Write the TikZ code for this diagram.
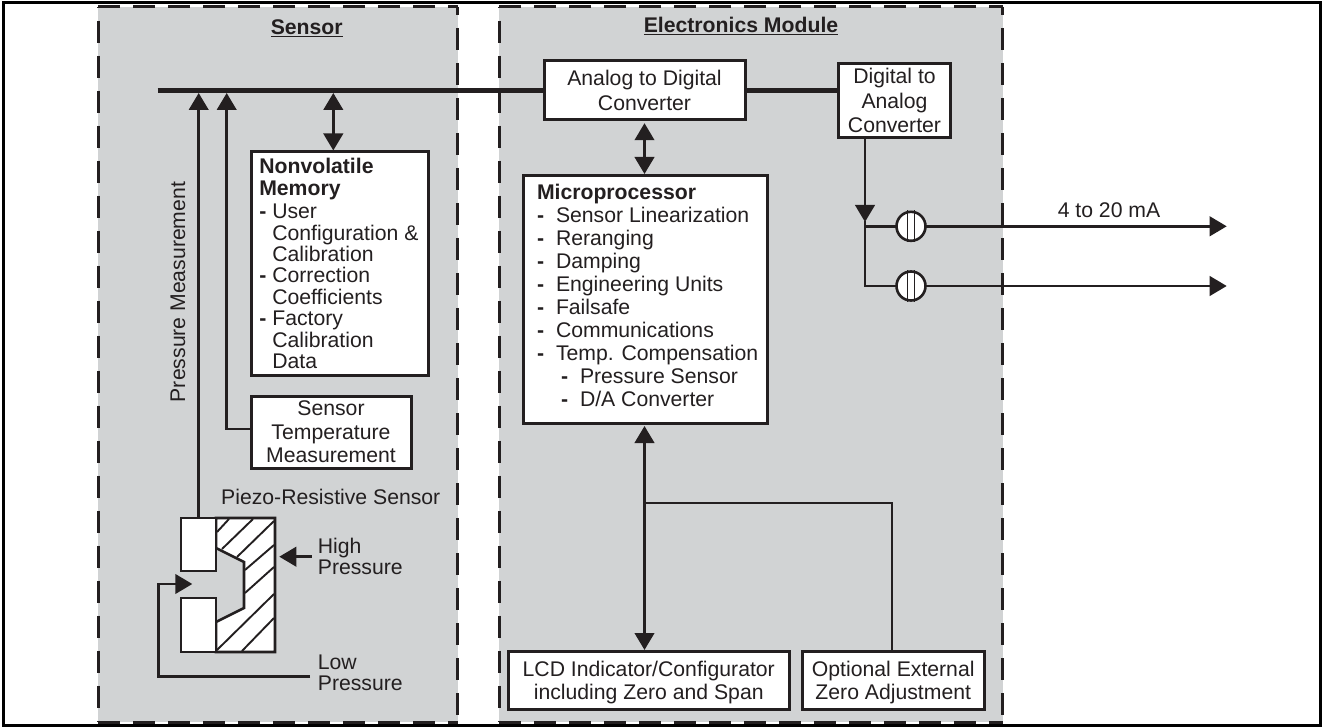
\documentclass[tikz,border=0pt]{standalone}
\usepackage{fontspec}
\setmainfont{Liberation Sans}
\usetikzlibrary{arrows.meta,calc}
\definecolor{panel}{HTML}{D1D3D4}
\definecolor{ink}{HTML}{231F20}
\newcommand{\memd}{\makebox[13pt][l]{\textbf{-}}}
\newcommand{\cpud}{\makebox[19pt][l]{\textbf{-}}}
\newcommand{\cpui}{\hspace*{24pt}\cpud}
\tikzset{
  x=1pt,y=-1pt,
  every node/.style={font=\fontsize{21.2}{21.4}\selectfont,text=ink},
  panelline/.style={draw=ink,line width=3pt,dash pattern=on 22pt off 13pt},
  whitebox/.style={draw=ink,fill=white,line width=3pt,align=center,inner sep=0pt,anchor=north west},
  wire/.style={draw=ink,line width=2.6pt},
  tip/.style={-{Triangle[length=17pt,width=19.5pt]}},
  dtip/.style={{Triangle[length=17pt,width=19.5pt]}-{Triangle[length=17pt,width=19.5pt]}},
  bus/.style={draw=ink,line width=5.5pt},
  port/.style={circle,draw=ink,fill=white,line width=2.6pt,minimum size=29pt,inner sep=0pt},
  hatch/.style={draw=ink,line width=1.9pt},
  lbl/.style={inner sep=0pt,align=left,anchor=north west},
  title/.style={font=\fontsize{21.2}{21.4}\selectfont\bfseries,inner sep=0pt,anchor=base}
}
\begin{document}
\begin{tikzpicture}
\useasboundingbox (0,0) rectangle (1323,727);
\fill[white] (0,0) rectangle (1323,727);
% panels
\fill[panel] (98,7) rectangle (457.5,722);
\fill[panel] (499,7) rectangle (1002.5,722);
\foreach \l/\r in {98/457.5,499/1002.5}{
  \draw[panelline] (\l,7) -- (\r,7);
  \draw[panelline] (\l,722) -- (\r,722);
  \draw[panelline,dash phase=21.4pt] (\l,7) -- (\l,722);
  \draw[panelline,dash phase=14pt] (\r,7) -- (\r,722);
}
\draw[black,line width=3pt] (3,3) rectangle (1320,725);
% titles
\node[title] (sensortitle) at (306.7,35) {\underline{Sensor}};
\node[title] (emtitle) at (741,33) {\underline{Electronics Module}};
% boxes
\node[whitebox,font=\fontsize{21.2}{25}\selectfont,minimum width=201pt,minimum height=58.7pt] (adc) at (542.5,59.5) {Analog to Digital\\Converter};
\node[whitebox,font=\fontsize{21.2}{24.8}\selectfont,minimum width=112pt,minimum height=74pt] (dac) at (837,62) {Digital to\\Analog\\Converter};
\node[whitebox] (mem) at (250,150.5) {\parbox[c][223pt][t]{176.5pt}{\fontsize{21.2}{21.4}\selectfont\raggedright\leftskip=7.8pt\rule{0pt}{21.7pt}\textbf{Nonvolatile}\\\textbf{Memory}\\[2.3pt]\memd User\\\hspace*{13pt}Configuration \&\\\hspace*{13pt}Calibration\\\memd Correction\\\hspace*{13pt}Coefficients\\\memd Factory\\\hspace*{13pt}Calibration\\\hspace*{13pt}Data}};
\node[whitebox,font=\fontsize{21.2}{23.5}\selectfont,minimum width=160pt,minimum height=72pt] (temp) at (249.5,394.5) {Sensor\\Temperature\\Measurement};
\node[whitebox] (mcu) at (521.5,174) {\parbox[c][247.5pt][t]{244pt}{\fontsize{21.2}{23.1}\selectfont\raggedright\leftskip=14pt\rule{0pt}{23.5pt}\textbf{Microprocessor}\\\cpud Sensor Linearization\\\cpud Reranging\\\cpud Damping\\\cpud Engineering Units\\\cpud Failsafe\\\cpud Communications\\\cpud Temp. Compensation\\\cpui Pressure Sensor\\\cpui D/A Converter}};
\node[whitebox,font=\fontsize{21.2}{23.6}\selectfont,minimum width=280.5pt,minimum height=58pt] (lcd) at (507,650) {\rule{0pt}{19pt}LCD Indicator/Configurator\\including Zero and Span};
\node[whitebox,font=\fontsize{21.2}{23.6}\selectfont,minimum width=181.5pt,minimum height=58pt] (opt) at (801,650) {\rule{0pt}{19pt}Optional External\\Zero Adjustment};
% bus
\coordinate (busl) at (157.7,90.7);
\coordinate (b1) at (198.7,93);
\coordinate (b2) at (226.7,93);
\coordinate (b3) at (333.3,93);
\draw[bus] (busl) -- (adc.west |- busl);
\draw[bus] (adc.east |- busl) -- (dac.west |- busl);
% sensor body
\coordinate (sTL) at (181,518);
\coordinate (sTM) at (216,518);
\coordinate (sTR) at (275,518);
\coordinate (sBR) at (275,652);
\coordinate (sBM) at (216,652);
\coordinate (c1) at (216,548);
\coordinate (c2) at (244,562);
\coordinate (c3) at (244,608);
\coordinate (c4) at (216,622);
\draw[line width=2.6pt,draw=ink,fill=white] (sTM) -- (sTR) -- (sBR) -- (sBM) -- (c4) -- (c3) -- (c2) -- (c1) -- cycle;
\draw[hatch] (217,532) -- (229,519);
\draw[hatch] (222,549) -- (253,519);
\draw[hatch] (237,557) -- (274,521);
\draw[hatch] (245,570) -- (274,545);
\draw[hatch] (245,593) -- (274,567);
\draw[hatch] (217,650) -- (274,594);
\draw[hatch] (242,651) -- (274,618);
\draw[line width=2.6pt,draw=ink,fill=white] (181,518) rectangle (216,571);
\draw[line width=2.6pt,draw=ink,fill=white] (181,598) rectangle (216,652);
% connectors
\path[wire,tip] (sTL -| b1) -- (b1);
\coordinate (t1) at (250,429);
\path[wire,tip] (t1) -| (b2);
\path[wire,dtip] (b3) -- (b3 |- mem.north);
\coordinate (a1) at (644.5,60);
\path[wire,dtip,shorten <=2pt] (adc.south -| a1) -- (mcu.north -| a1);
\path[wire,dtip,shorten <=1.5pt] (mcu.south -| a1) -- (lcd.north -| a1);
\coordinate (j1) at (644.5,503);
\coordinate (j2) at (892,503);
\draw[wire] (j1) -- (j2) -- (j2 |- opt.north);
% outputs
\coordinate (d1) at (865,139);
\coordinate (d2) at (865,222);
\coordinate (o1) at (865,226.3);
\coordinate (o2) at (865,286);
\coordinate (e1) at (1226.7,226.3);
\coordinate (e2) at (1226.7,286);
\path[wire,tip] (d1) -- (d2);
\draw[wire,line cap=rect] (d2) -- (o2);
\path[wire,tip] (o1) -- (e1);
\path[wire,tip] (o2) -- (e2);
\node[port] (p1) at (911,226.3) {};
\node[port] (p2) at (911,286) {};
\foreach \p in {p1,p2}{
  \draw[ink,line width=1.4pt] ($(\p.north)+(-3.5,0)$) -- ($(\p.south)+(-3.5,0)$);
  \draw[ink,line width=1.4pt] ($(\p.north)+(3.5,0)$) -- ($(\p.south)+(3.5,0)$);
}
% pressure arrows
\coordinate (hp0) at (311.7,556.7);
\coordinate (hp1) at (279.3,556.7);
\path[wire,tip] (hp0) -- (hp1);
\coordinate (lp0) at (310,676.7);
\coordinate (lp1) at (158.3,676.7);
\coordinate (lp2) at (158.3,584);
\coordinate (lp3) at (192.3,584);
\path[wire,tip] (lp0) -- (lp1) -- (lp2) -- (lp3);
% labels
\node[inner sep=0pt,anchor=base west] (piezo) at (221,504) {Piezo-Resistive Sensor};
\node[lbl] (high) at (317.7,537.5) {High\\Pressure};
\node[lbl] (low) at (317.7,654.8) {Low\\Pressure};
\node[inner sep=0pt,anchor=base,rotate=90] (pm) at (185,292) {Pressure Measurement};
\node[inner sep=0pt,anchor=base] (ma) at (1109,217.7) {4 to 20 mA};
\end{tikzpicture}
\end{document}
